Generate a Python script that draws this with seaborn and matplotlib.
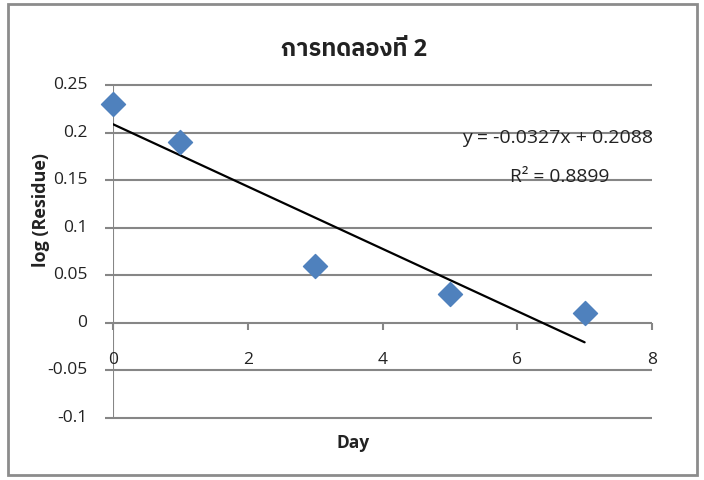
import matplotlib
matplotlib.use("Agg")
import matplotlib.pyplot as plt
from matplotlib import font_manager
from matplotlib.ft2font import FT2Font
import matplotlib.patches as mpatches
import seaborn as sns
import numpy as np
import pandas as pd

# ---- data ----
days = [0, 1, 3, 5, 7]
log_residue = [0.23, 0.19, 0.06, 0.03, 0.01]
title_text = "การทดลองที่ 2"
x_label = "Day"
y_label = "log (Residue)"
x_ticks = [0, 2, 4, 6, 8]
y_ticks = [-0.1, -0.05, 0, 0.05, 0.1, 0.15, 0.2, 0.25]
y_tick_labels = ["-0.1", "-0.05", "0", "0.05", "0.1", "0.15", "0.2", "0.25"]

sns.set_theme(style="white")

# find fonts with Thai glyphs
thai = {}
for f in font_manager.fontManager.ttflist:
    try:
        cm = FT2Font(f.fname).get_charmap()
        if 0x0E01 in cm and 0x0E17 in cm and 0x0E48 in cm:
            thai.setdefault(f.name, set()).add(str(f.weight))
    except Exception:
        pass
def _score(n):
    low = n.lower()
    sans = ("sans" in low) and ("looped" not in low) and ("serif" not in low)
    bold = any(w in ("bold", "600", "700", "800", "900", "semibold") for w in thai[n])
    return (sans, bold, n)
thai_names = sorted(thai, key=_score, reverse=True)
base_font = "Open Sans"
fam = [base_font] + thai_names[:1] + ["DejaVu Sans"]
plt.rcParams['font.family'] = [base_font, "DejaVu Sans"]

df = pd.DataFrame({"day": days, "val": log_residue})

fig = plt.figure(figsize=(7.04, 4.8), dpi=100)
ax = fig.add_axes([113/704, 1-418/480, (652-113)/704, (418-85)/480])

grid_c = "#868686"
ax.set_xlim(0, 8)
ax.set_ylim(-0.1, 0.25)
for yv in y_ticks:
    ax.plot([-0.12, 8], [yv, yv], color=grid_c, lw=1.5, clip_on=False, zorder=1,
            solid_capstyle="butt")
ax.plot([0, 0], [-0.1, 0.25], color=grid_c, lw=1.5, zorder=1, solid_capstyle="butt")
for xv in x_ticks:
    ax.plot([xv, xv], [0, -0.008], color=grid_c, lw=1.5, zorder=1, clip_on=False,
            solid_capstyle="butt")

# trendline
slope, intercept = np.polyfit(days, log_residue, 1)
xs = np.array([min(days), max(days)])
ax.plot(xs, slope*xs + intercept, color="black", lw=1.6, zorder=3)

sns.scatterplot(data=df, x="day", y="val", ax=ax, marker="D", s=150,
                color="#4F81BD", edgecolor="#4F81BD", zorder=4, clip_on=False, legend=False)

for s in ax.spines.values():
    s.set_visible(False)
ax.set_xticks([])
ax.set_yticks([])
ax.set_xlabel("")
ax.set_ylabel("")

tc = "#222222"
fs = 12.5
for yv, lab in zip(y_ticks, y_tick_labels):
    ax.text(-0.38, yv, lab, ha="right", va="center", fontsize=fs, color=tc)
for xv in x_ticks:
    ax.text(xv, -0.039, str(xv), ha="center", va="center", fontsize=fs, color=tc)

pred = slope*np.array(days) + intercept
r2 = 1 - np.sum((np.array(log_residue)-pred)**2)/np.sum((np.array(log_residue)-np.mean(log_residue))**2)
ax.text(8.02, 0.194, f"y = {slope:.4f}x + {intercept:.4f}", ha="right", va="center",
        fontsize=14, color=tc)
ax.text(7.36, 0.153, f"R² = {r2:.4f}", ha="right", va="center", fontsize=13.8, color=tc)

fig.text(353/704, 1-443/480, x_label, ha="center", va="center", fontsize=12.5,
         fontweight="bold", color=tc)
fig.text(41/704, 1-210/480, y_label, ha="center", va="center", rotation=90,
         fontsize=13, fontweight="bold", color=tc)
fig.text(354/704, 1-50/480, title_text, ha="center", va="center", fontsize=17,
         fontweight="bold", color=tc, family=fam)

fig.patches.append(mpatches.Rectangle((8/704, 1-475/480), (697-8)/704, (475-4)/480,
                                      transform=fig.transFigure, fill=False,
                                      edgecolor="#8c8c8c", lw=2))
fig.savefig("out.png", dpi=100)
